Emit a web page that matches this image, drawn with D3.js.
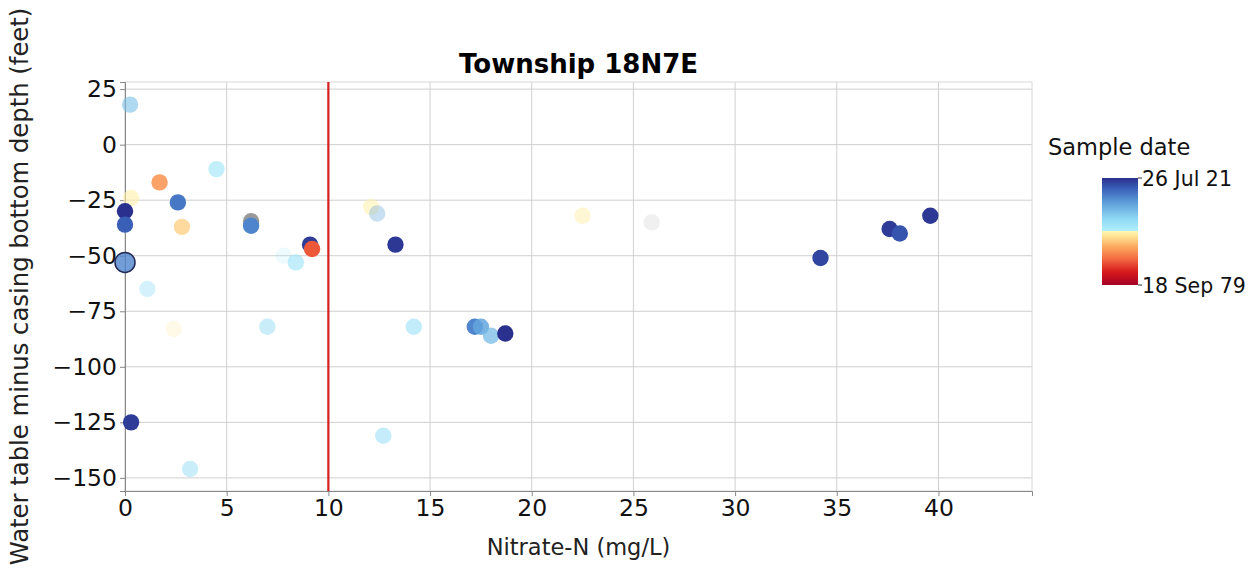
<!DOCTYPE html>
<html><head><meta charset="utf-8">
<script src="https://cdn.jsdelivr.net/npm/d3@7"></script>
<style>body{margin:0;background:#fff;font-family:"DejaVu Sans",sans-serif;}</style>
</head><body>
<svg id="c" width="1257" height="569"></svg>
<script>
const title = "Township 18N7E";
const xLabel = "Nitrate-N (mg/L)";
const yLabel = "Water table minus casing bottom depth (feet)";
const cbLabel = "Sample date";
const xTicks = [0,5,10,15,20,25,30,35,40];
const yTicks = [25,0,-25,-50,-75,-100,-125,-150];
const limitNitrate = 10;
const dateMin = "1979-09-18", dateMax = "2021-07-26";
const cbTickLabels = ["26 Jul 21","18 Sep 79"];
// colormap stops (position along colorbar, colour)
const cmapPos = [0.0,0.12,0.25,0.35,0.45,0.5,0.502,0.62,0.78,0.9,1.0];
const cmapCol = ["#a50026","#d7191c","#f46d43","#fca55d","#fee090","#fff5b0","#b0f0fc","#8fd8f4","#5a9ad8","#3a60b8","#2a2f8c"];
// points: nitrate, depth, sample date (null = no date, drawn grey), opacity
const nitrate = [0.25,4.5,1.7,0.3,2.6,0.0,0.0,2.8,6.2,6.2,0.0,1.1,2.4,7.0,0.3,3.2,7.8,8.4,9.1,9.2,12.1,12.4,13.3,14.2,17.2,17.5,18.0,18.7,12.7,22.5,25.9,34.2,37.6,38.1,39.6];
const depth   = [18,-11,-17,-24,-26,-30,-36,-37,-34.5,-36.5,-53,-65,-83,-82,-125,-146,-50,-53,-45,-47,-28,-31,-45,-82,-82,-82,-86,-85,-131,-32,-35,-51,-38,-40,-32];
const sampleDate = ["2008-06-01","2002-09-01","1993-06-01","2000-03-01","2015-05-01","2021-07-01","2017-07-01","1997-03-01",null,"2014-03-01","2014-03-01","2004-10-01","1999-10-01","2004-10-01","2020-06-01","2004-10-01","2002-09-01","2003-02-01","2020-06-01","1988-11-01","2000-03-01","2011-03-01","2020-11-01","2004-01-01","2014-03-01","2011-03-01","2009-01-01","2021-07-01","2004-10-01","2000-03-01",null,"2019-08-01","2020-06-01","2018-06-01","2020-11-01"];
const opacity = [0.6,0.65,0.9,0.6,1,1,1,0.75,0.8,1,0.8,0.4,0.25,0.5,1,0.5,0.2,0.65,1,1,0.55,0.35,1,0.6,1,0.85,0.75,1,0.55,0.5,0.12,1,1,1,1];
const bigEdge = [10]; // index of the large outlined marker

const svg = d3.select("#c");
const L=125,R=1032,T=82,B=491;
const x = d3.scaleLinear().domain([0,44.6]).range([L,R]);
const y = d3.scaleLinear().domain([-155.9,28.2]).range([B,T]);
const parse = d3.timeParse("%Y-%m-%d");
const t = d3.scaleTime().domain([parse(dateMin),parse(dateMax)]).range([0,1]).clamp(true);
const cmap = d3.scaleLinear().domain(cmapPos).range(cmapCol).interpolate(d3.interpolateRgb).clamp(true);
const col = v => v ? cmap(t(v)) : "#808080";
const font = '"DejaVu Sans",sans-serif';

// grid
svg.append("g").selectAll("line").data(xTicks).join("line")
  .attr("x1",d=>x(d)).attr("x2",d=>x(d)).attr("y1",T).attr("y2",B)
  .attr("stroke","#cfcfcf").attr("stroke-width",1);
svg.append("g").selectAll("line").data(yTicks).join("line")
  .attr("x1",L).attr("x2",R).attr("y1",d=>y(d)).attr("y2",d=>y(d))
  .attr("stroke","#cfcfcf").attr("stroke-width",1);
// frame
svg.append("rect").attr("x",L).attr("y",T).attr("width",R-L).attr("height",B-T)
  .attr("fill","none").attr("stroke","#d8d8d8");
// axes
const xa = svg.append("g").attr("transform",`translate(0,${B})`)
  .call(d3.axisBottom(x).tickValues(xTicks).tickSize(5).tickPadding(3));
const ya = svg.append("g").attr("transform",`translate(${L},0)`)
  .call(d3.axisLeft(y).tickValues(yTicks).tickSize(5).tickPadding(3).tickFormat(d=>d<0?"\u2212"+Math.abs(d):d));
[xa,ya].forEach(a=>{
  a.select(".domain").attr("stroke","#888");
  a.selectAll(".tick line").attr("stroke","#888");
  a.selectAll("text").attr("font-family",font).attr("font-size",23.5).attr("fill","#111");
});

// red line
svg.append("line").attr("x1",x(limitNitrate)).attr("x2",x(limitNitrate)).attr("y1",T).attr("y2",B)
  .attr("stroke","#d62020").attr("stroke-width",2.2);

// points
const pts = nitrate.map((n,i)=>({n,d:depth[i],s:sampleDate[i]?parse(sampleDate[i]):null,o:opacity[i],big:bigEdge.includes(i)}));
svg.append("g").selectAll("circle").data(pts).join("circle")
  .attr("cx",d=>x(d.n)).attr("cy",d=>y(d.d))
  .attr("r",d=>d.big?10:8.2)
  .attr("fill",d=>col(d.s)).attr("fill-opacity",d=>d.o)
  .attr("stroke",d=>d.big?"#222a55":"none").attr("stroke-width",1.5);

// title and labels
svg.append("text").attr("x",(L+R)/2).attr("y",73).attr("text-anchor","middle")
  .attr("font-family",font).attr("font-weight","bold").attr("font-size",26).text(title);
svg.append("text").attr("x",(L+R)/2).attr("y",555).attr("text-anchor","middle")
  .attr("font-family",font).attr("font-size",22.5).attr("fill","#222").text(xLabel);
svg.append("text").attr("transform",`translate(28,${(T+B)/2}) rotate(-90)`).attr("text-anchor","middle")
  .attr("font-family",font).attr("font-size",24.3).attr("fill","#222").text(yLabel);

// colorbar
const cbX=1102,cbW=36,cbT=178,cbB=285;
const defs = svg.append("defs");
const g = defs.append("linearGradient").attr("id","cb").attr("x1",0).attr("y1",1).attr("x2",0).attr("y2",0);
cmapPos.forEach((p,i)=>g.append("stop").attr("offset",p).attr("stop-color",cmapCol[i]));
svg.append("rect").attr("x",cbX).attr("y",cbT).attr("width",cbW).attr("height",cbB-cbT).attr("fill","url(#cb)");
const cbScale = d3.scaleLinear().domain([0,1]).range([cbB,cbT]);
[[1,cbTickLabels[0]],[0,cbTickLabels[1]]].forEach(([v,lab])=>{
  svg.append("line").attr("x1",cbX+cbW).attr("x2",cbX+cbW+4).attr("y1",cbScale(v)).attr("y2",cbScale(v)).attr("stroke","#333");
  svg.append("text").attr("x",cbX+cbW+4).attr("y",cbScale(v)+7.5).attr("font-family",font).attr("font-size",20.5).attr("fill","#111").text(lab);
});
svg.append("text").attr("x",1048).attr("y",155).attr("font-family",font).attr("font-size",22.5).attr("fill","#111").text(cbLabel);
</script>
</body></html>
